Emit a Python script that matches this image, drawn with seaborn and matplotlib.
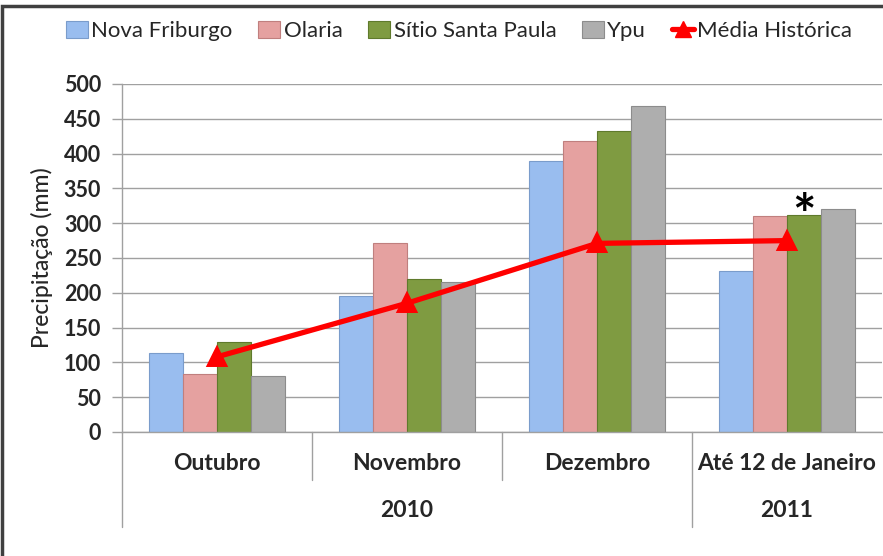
import numpy as np
import pandas as pd
import matplotlib
matplotlib.use("Agg")
import matplotlib.pyplot as plt
import seaborn as sns
from matplotlib.patches import Patch, Rectangle
from matplotlib.lines import Line2D
import matplotlib.transforms as mtransforms

# ---- data ----
months = ["Outubro", "Novembro", "Dezembro", "Até 12 de Janeiro"]
years = ["2010", "2011"]
stations = ["Nova Friburgo", "Olaria", "Sítio Santa Paula", "Ypu"]
nova_friburgo = [113, 196, 389, 231]
olaria = [84, 271, 418, 310]
sitio_santa_paula = [129, 220, 433, 312]
ypu = [81, 216, 469, 321]
media_historica = [108, 185, 271, 275]
yticks = [0, 50, 100, 150, 200, 250, 300, 350, 400, 450, 500]

colors = ["#99BDEF", "#E5A1A0", "#7F9B41", "#AEAEAE"]
edges = ["#7A9CCB", "#C07F7E", "#5F7A2C", "#8C8C8C"]

df = pd.DataFrame({
    "mes": months * 4,
    "estacao": sum([[s] * 4 for s in stations], []),
    "valor": nova_friburgo + olaria + sitio_santa_paula + ypu,
})

sns.set_theme(style="white")
plt.rcParams["font.family"] = ["Lato", "DejaVu Sans"]

fig = plt.figure(figsize=(8.83, 5.56), dpi=100)
ax = fig.add_axes([122 / 883, 1 - 432 / 556, 760 / 883, 348 / 556])

sns.barplot(data=df, x="mes", y="valor", hue="estacao", order=months,
            hue_order=stations, palette=colors, width=0.72, ax=ax,
            legend=False, saturation=1, zorder=2)
for i, cont in enumerate(ax.containers):
    for p in cont:
        p.set_edgecolor(edges[i])
        p.set_linewidth(0.8)

sns.pointplot(x=months, y=media_historica, color="#FF0000", markers="^",
              linestyles="-", ax=ax, markersize=12, linewidth=3.8,
              errorbar=None, zorder=5)

ax.set_xlim(-0.5, 3.5)
ax.set_ylim(0, 500)
ax.set_yticks(yticks)
ax.set_yticklabels([str(v) for v in yticks], fontsize=15.5, fontweight="bold")
ax.yaxis.grid(True, color="#A0A0A0", linewidth=1)
ax.set_axisbelow(True)
ax.tick_params(axis="y", which="both", left=True, length=7, color="#A0A0A0",
               width=1, pad=8)
ax.set_xticks([])
ax.set_xlabel("")
ax.set_ylabel("Precipitação (mm)", fontsize=16.5, fontweight="medium",
              labelpad=8)
for s in ["top", "right"]:
    ax.spines[s].set_visible(False)
for s in ["left", "bottom"]:
    ax.spines[s].set_color("#A0A0A0")
    ax.spines[s].set_linewidth(1)

# asterisk above the Sítio Santa Paula bar in January
ax.annotate("*", xy=(3.09, sitio_santa_paula[3]), xytext=(0, -14),
            textcoords="offset points", ha="center", va="baseline",
            fontsize=40, fontweight="bold", color="black")

# multilevel x axis
trans = mtransforms.blended_transform_factory(ax.transData, ax.transAxes)
for i, m in enumerate(months):
    ax.text(i, -0.09, m, transform=trans, ha="center", va="center",
            fontsize=16.5, fontweight="bold")
ax.text(1.0, -0.225, years[0], transform=trans, ha="center", va="center",
        fontsize=16.5, fontweight="bold")
ax.text(3.0, -0.225, years[1], transform=trans, ha="center", va="center",
        fontsize=16.5, fontweight="bold")
for xb in [0.5, 1.5]:
    ax.plot([xb, xb], [0, -0.138], transform=trans, color="#A0A0A0",
            lw=1, clip_on=False)
for xb in [-0.5, 2.5]:
    ax.plot([xb, xb], [0, -0.273], transform=trans, color="#A0A0A0",
            lw=1, clip_on=False)

# legend
handles = [Patch(facecolor=c, edgecolor=e, linewidth=0.8) for c, e in zip(colors, edges)]
handles.append(Line2D([0], [0], color="#FF0000", lw=3.8, marker="^", markersize=11))
fig.legend(handles, stations + ["Média Histórica"], loc="center",
           bbox_to_anchor=(459 / 883, 1 - 31 / 556), ncol=5, frameon=False,
           fontsize=16, handlelength=1.0, handleheight=0.8,
           handletextpad=0.15, columnspacing=1.15)

# outer frame
fig.patches.append(Rectangle((0.002, -0.01), 1.2, 1.0, transform=fig.transFigure,
                             fill=False, edgecolor="#404040", linewidth=2.5))

fig.savefig("out.png", dpi=100)
